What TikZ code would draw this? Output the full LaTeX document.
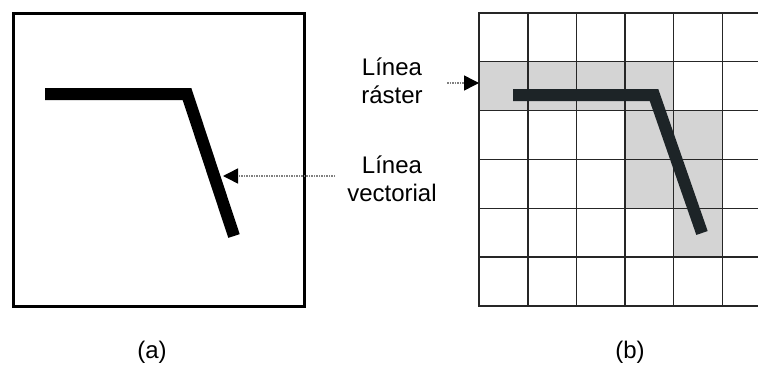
\documentclass[tikz,border=0pt]{standalone}
\usepackage{fontspec}
\setmainfont{Liberation Sans}
\usetikzlibrary{arrows.meta}

\definecolor{rasterink}{HTML}{1D2427}
\definecolor{gridink}{HTML}{262626}

\begin{document}
\begin{tikzpicture}
    [x=1pt, y=-1pt, >={Triangle[length=15pt, width=15pt, color=black]},
     txt/.style={font=\fontsize{24}{28}\selectfont, align=center, inner sep=0pt},
     pointer/.style={->, draw=gray, densely dotted, line width=1.5pt},
     thickline/.style={line width=12pt, line join=miter},
     gridline/.style={draw=gridink, line width=1.5pt},
     rastercell/.style={fill=black!17}]
    \useasboundingbox (0,0) rectangle (758,367);

    % vector model
    \draw[line width=3pt] (13,13) rectangle (304,306);
    \draw[thickline, black] (45,94) -- (187,94) -- (234,236);

    % raster model, cells of the grid
    \begin{scope}
        \clip (470,0) rectangle (758,367);
        \begin{scope}[shift={(479.3,12.7)}, x=48.6pt, y=-48.9pt]
            \foreach \c/\r in {0/1,1/1,2/1,3/1,3/2,4/2,3/3,4/3,4/4}
                \fill[rastercell] (\c,\r) rectangle ++(1,1);
            \foreach \i in {0,...,6}
                \draw[gridline] (\i,0) -- (\i,6);
            \foreach \j in {0,...,6}
                \draw[gridline] (0,\j) -- (6.5,\j);
            \draw[gridline, line width=2.2pt] (6.5,6) -- (0,6) -- (0,0) -- (6.5,0);
        \end{scope}
    \end{scope}
    \draw[thickline, rasterink] (513,95) -- (654,95) -- (702,233);

    % labels and pointers
    \node[txt] (rlabel) at (392,81) {Línea\\ráster};
    \node[txt] (vlabel) at (392,179) {Línea\\vectorial};

    \coordinate (rtail) at (447,83);
    \coordinate (rtip) at (479,83);
    \coordinate (vtail) at (335,176);
    \coordinate (vtip) at (223,176);
    \draw[pointer] (rtail) -- (rtip);
    \draw[pointer] (vtail) -- (vtip);

    \node[txt] (capa) at (152,352) {(a)};
    \node[txt] (capb) at (630,352) {(b)};
\end{tikzpicture}
\end{document}
